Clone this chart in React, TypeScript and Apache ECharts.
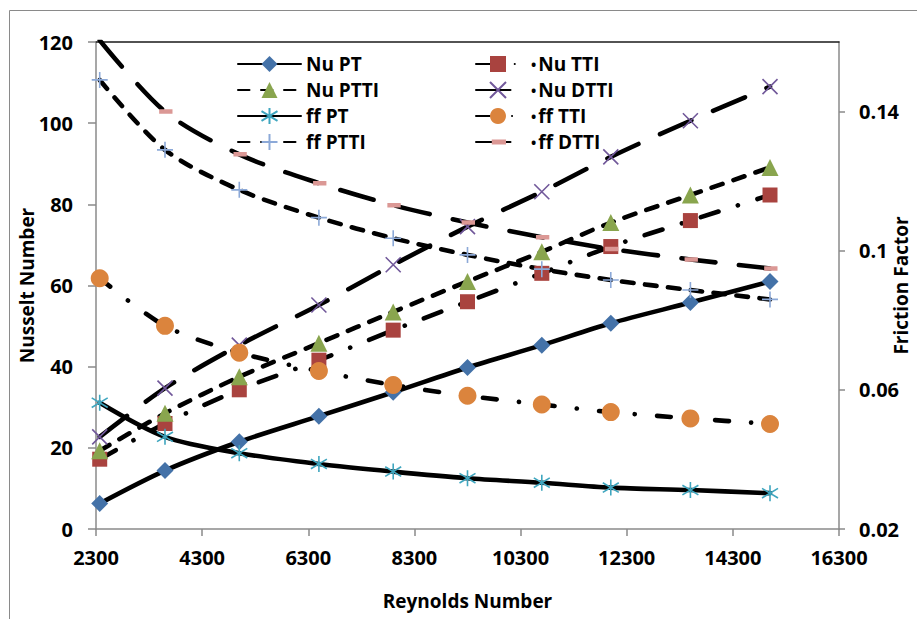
import React, { useEffect, useRef } from "react";
import * as echarts from "echarts";

// ---- data ----
const reynolds = [2370, 3600, 5000, 6500, 7900, 9300, 10700, 12000, 13500, 15000];
const nuPT = [6.3, 14.4, 21.5, 27.8, 33.7, 39.8, 45.3, 50.7, 55.8, 61.0];
const nuTTI = [17.2, 26.0, 34.3, 41.6, 49.0, 56.0, 63.0, 69.6, 76.0, 82.3];
const nuPTTI = [19.3, 28.5, 37.5, 45.8, 53.5, 61.0, 68.3, 75.5, 82.3, 89.1];
const nuDTTI = [22.7, 34.7, 45.3, 55.2, 65.1, 74.5, 83.1, 91.7, 100.6, 109.0];
const ffPT = [0.0563, 0.0465, 0.0418, 0.0387, 0.0365, 0.0346, 0.0333, 0.0319, 0.0312, 0.0303];
const ffTTI = [0.0921, 0.0784, 0.0707, 0.0654, 0.0614, 0.0583, 0.0558, 0.0536, 0.0518, 0.0502];
const ffPTTI = [0.1491, 0.129, 0.1175, 0.1095, 0.1036, 0.0988, 0.0947, 0.0916, 0.0887, 0.086];
const ffDTTI = [0.1605, 0.14, 0.1277, 0.1194, 0.1131, 0.1081, 0.1039, 0.1005, 0.0975, 0.0949];

const xTicks = [2300, 4300, 6300, 8300, 10300, 12300, 14300, 16300];
const nuTicks = [0, 20, 40, 60, 80, 100, 120];
const ffTicks = [0.02, 0.06, 0.1, 0.14];

const legendLeft = ["Nu PT", "Nu PTTI", "ff PT", "ff PTTI"];
const legendRight = ["Nu TTI", "Nu DTTI", "ff TTI", "ff DTTI"];

// ---- styling ----
const FONT = "'Open Sans', 'DejaVu Sans', sans-serif";
const AXIS_GREY = "#8a8a8a";
const X_PATH = "path://M0 0L20 20M20 0L0 20";
const STAR_PATH = "path://M10 0L10 20M0 4L20 16M20 4L0 16";
const PLUS_PATH = "path://M10 0L10 20M0 10L20 10";
const DASH_PATH = "path://M0 0L0.01 0M0 20L0.01 20M2 7L18 7L18 13L2 13Z";

const pairs = (ys: number[]) => reynolds.map((x, i) => [x, ys[i]]);

function mk(
  name: string,
  ys: number[],
  yAxisIndex: number,
  symbol: string,
  symbolSize: number,
  color: string,
  dash: any,
  stroked: boolean
) {
  return {
    name,
    type: "line",
    xAxisIndex: 0,
    yAxisIndex,
    data: pairs(ys),
    smooth: 0.3,
    symbol,
    symbolSize,
    showSymbol: true,
    clip: true,
    itemStyle: stroked
      ? { color, borderColor: color, borderWidth: 1.6 }
      : { color, borderWidth: 0 },
    lineStyle: { color: "#000", width: 4.6, type: dash, cap: "round", join: "round" },
    emphasis: { disabled: true },
  };
}

const DASHED = [11.5, 11.5];
const LONG_DASH = [34.5, 23.5];
const DASH_DOT_NU = [18.5, 20.2, 0.1, 20.2];
const DASH_DOT_FF = [13.8, 22.2, 0.1, 22.2];

const labelText = { fontFamily: FONT, fontSize: 20, fontWeight: "bold", color: "#000" };
const titleText = { fontFamily: FONT, fontSize: 19, fontWeight: "bold", color: "#000" };
const legendText = {
  fontFamily: FONT,
  fontSize: 19,
  fontWeight: "bold",
  color: "#000",
  lineHeight: 20,
};

export default function App() {
  const ref = useRef<HTMLDivElement>(null);

  useEffect(() => {
    if (!ref.current) return;
    const chart = echarts.init(ref.current, null, { renderer: "svg" });
    const option: any = {
      animation: false,
      backgroundColor: "#fff",
      grid: {
        left: 96,
        right: 78,
        top: 42,
        bottom: 90,
        containLabel: false,
        outerBoundsMode: "none",
      },
      graphic: [
        {
          type: "rect",
          shape: { x: 9.5, y: 10.5, width: 1000, height: 700 },
          style: { fill: "transparent", stroke: AXIS_GREY, lineWidth: 1 },
          silent: true,
          z: -10,
        },
      ],
      legend: [
        {
          data: legendLeft,
          orient: "vertical",
          left: 232,
          top: 49,
          itemWidth: 63,
          itemHeight: 20,
          itemGap: 6,
          selectedMode: false,
          textStyle: legendText,
        },
        {
          data: legendRight,
          orient: "vertical",
          left: 470,
          top: 49,
          itemWidth: 44,
          itemHeight: 20,
          itemGap: 6,
          selectedMode: false,
          formatter: (n: string) => `{b|•}${n}`,
          textStyle: {
            ...legendText,
            rich: {
              b: {
                fontFamily: FONT,
                fontSize: 14,
                fontWeight: "bold",
                color: "#000",
                padding: [0, 2, 0, 6],
              },
            },
          },
        },
      ],
      xAxis: [
        {
          type: "value",
          min: 2300,
          max: 16300,
          interval: 2000,
          name: "Reynolds Number",
          nameLocation: "middle",
          nameGap: 62,
          nameMoveOverlap: false,
          nameTextStyle: titleText,
          axisLine: { show: true, onZero: false, lineStyle: { color: AXIS_GREY, width: 1.5 } },
          axisTick: {
            show: true,
            customValues: xTicks,
            length: 7,
            lineStyle: { color: AXIS_GREY, width: 1.5 },
          },
          axisLabel: {
            customValues: xTicks,
            margin: 18,
            ...labelText,
            formatter: (v: number) => String(Math.round(v)),
          },
          splitLine: { show: false },
        },
        {
          type: "value",
          position: "top",
          min: 2300,
          max: 16300,
          axisLine: { show: true, onZero: false, lineStyle: { color: "#1a1a1a", width: 1.5 } },
          axisTick: { show: false },
          axisLabel: { show: false },
          splitLine: { show: false },
        },
      ],
      yAxis: [
        {
          type: "value",
          min: 0,
          max: 120,
          interval: 20,
          position: "left",
          name: "Nusselt Number",
          nameLocation: "middle",
          nameRotate: 90,
          nameGap: 60,
          nameMoveOverlap: false,
          nameTextStyle: titleText,
          axisLine: { show: true, onZero: false, lineStyle: { color: AXIS_GREY, width: 1.5 } },
          axisTick: { show: true, customValues: nuTicks, length: 8, lineStyle: { color: AXIS_GREY, width: 1.5 } },
          axisLabel: { customValues: nuTicks, margin: 23, ...labelText },
          splitLine: { show: false },
        },
        {
          type: "value",
          min: 0.02,
          max: 0.16,
          position: "right",
          name: "Friction Factor",
          nameLocation: "middle",
          nameRotate: 90,
          nameGap: 52,
          nameMoveOverlap: false,
          nameTextStyle: titleText,
          axisLine: { show: true, onZero: false, lineStyle: { color: AXIS_GREY, width: 1.5 } },
          axisTick: { show: true, customValues: ffTicks, length: 6, lineStyle: { color: AXIS_GREY, width: 1.5 } },
          axisLabel: {
            customValues: ffTicks,
            margin: 20,
            ...labelText,
            formatter: (v: number) => String(parseFloat(Number(v).toFixed(2))),
          },
          splitLine: { show: false },
        },
      ],
      series: [
        mk("Nu PT", nuPT, 0, "diamond", 17, "#4472a8", "solid", false),
        mk("Nu TTI", nuTTI, 0, "rect", 15, "#a9433f", DASH_DOT_NU, false),
        mk("Nu PTTI", nuPTTI, 0, "triangle", 17, "#89a54e", DASHED, false),
        mk("Nu DTTI", nuDTTI, 0, X_PATH, 15, "#71589a", LONG_DASH, true),
        mk("ff PT", ffPT, 1, STAR_PATH, 16, "#3fa6bf", "solid", true),
        mk("ff TTI", ffTTI, 1, "circle", 18, "#db843d", DASH_DOT_FF, false),
        mk("ff PTTI", ffPTTI, 1, PLUS_PATH, 16, "#8ca9d8", DASHED, true),
        mk("ff DTTI", ffDTTI, 1, DASH_PATH, 15, "#db9895", LONG_DASH, false),
      ],
    };
    chart.setOption(option);
    return () => chart.dispose();
  }, []);

  return (
    <div
      ref={ref}
      style={{ position: "fixed", left: 0, top: 0, width: 917, height: 619, background: "#fff" }}
    />
  );
}
